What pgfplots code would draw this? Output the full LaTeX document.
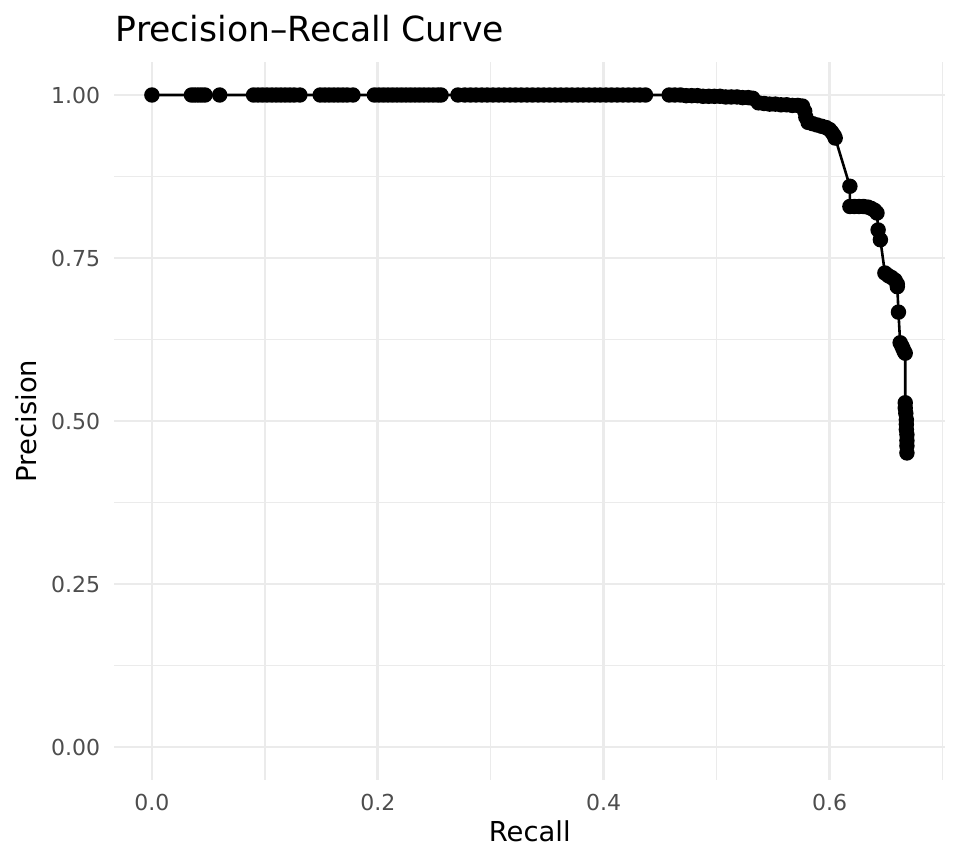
\documentclass[border=0pt]{standalone}
\usepackage{pgfplots}
\pgfplotsset{compat=1.18}
\usepackage{fontspec}
\setmainfont{DejaVu Sans}
\definecolor{grid92}{HTML}{EBEBEB}
\definecolor{tick30}{HTML}{4D4D4D}
\begin{document}
\begin{tikzpicture}
\path[use as bounding box] (-57.1pt,-42.2pt) rectangle (422.9pt,389.8pt);
\begin{axis}[
  at={(0pt,0pt)}, anchor=south west,
  scale only axis, width=415.5pt, height=358.6pt,
  xmin=-0.0334, xmax=0.7024, ymin=-0.05, ymax=1.05,
  xtick={0,0.2,0.4,0.6}, xticklabels={0.0,0.2,0.4,0.6},
  minor xtick={0.1,0.3,0.5,0.7},
  ytick={0,0.25,0.5,0.75,1}, yticklabels={0.00,0.25,0.50,0.75,1.00},
  minor ytick={0.125,0.375,0.625,0.875},
  grid=both,
  major grid style={draw=grid92, line width=1.33pt},
  minor grid style={draw=grid92, line width=0.67pt},
  axis line style={draw=none},
  major tick length=0pt, minor tick length=0pt,
  tick style={draw=none},
  /pgf/number format/assume math mode=true,
  xticklabel style={anchor=base, yshift=-15.2pt, inner sep=0pt, font=\fontsize{11}{13}\selectfont, text=tick30},
  yticklabel style={anchor=east, xshift=-6.85pt, inner sep=0pt, font=\fontsize{11}{13}\selectfont, text=tick30},
  clip=false,
]
\addplot[black, line width=1.3pt, mark=*, mark size=3.2pt, mark options={solid, fill=black, draw=black}] coordinates {
(0,1)
(0.035,1) (0.038,1) (0.041,1) (0.044,1) (0.047,1)
(0.060,1)
(0.090,1) (0.094,1) (0.098,1) (0.102,1) (0.106,1) (0.110,1) (0.114,1) (0.118,1) (0.122,1) (0.126,1) (0.131,1)
(0.149,1) (0.153,1) (0.157,1) (0.161,1) (0.165,1) (0.169,1) (0.173,1) (0.178,1)
(0.197,1) (0.201,1) (0.205,1) (0.209,1) (0.213,1) (0.217,1) (0.221,1) (0.225,1) (0.229,1) (0.233,1) (0.237,1) (0.241,1) (0.245,1) (0.249,1) (0.253,1) (0.256,1)
(0.271,1) (0.277,1) (0.282,1) (0.287,1) (0.292,1) (0.297,1) (0.302,1) (0.307,1) (0.312,1) (0.317,1) (0.322,1) (0.327,1) (0.332,1) (0.337,1) (0.342,1) (0.347,1) (0.352,1) (0.357,1) (0.362,1) (0.367,1) (0.372,1) (0.377,1) (0.382,1) (0.387,1) (0.392,1) (0.397,1) (0.402,1) (0.407,1) (0.412,1) (0.417,1) (0.422,1) (0.427,1) (0.432,1) (0.437,1)
(0.458,1) (0.463,1) (0.468,1) (0.473,0.999) (0.478,0.999) (0.483,0.999) (0.488,0.998) (0.493,0.998) (0.498,0.998) (0.503,0.998) (0.508,0.997) (0.513,0.997) (0.518,0.997) (0.523,0.996) (0.528,0.996) (0.532,0.995)
(0.537,0.988) (0.542,0.987) (0.547,0.986) (0.552,0.986) (0.557,0.985) (0.562,0.985) (0.567,0.984) (0.572,0.984) (0.576,0.983)
(0.578,0.975) (0.579,0.966) (0.581,0.958) (0.585,0.956) (0.589,0.954) (0.593,0.952) (0.597,0.950) (0.600,0.947) (0.602,0.943) (0.604,0.938) (0.605,0.934)
(0.618,0.860)
(0.618,0.829) (0.622,0.829) (0.626,0.829) (0.630,0.829) (0.634,0.828) (0.637,0.826) (0.640,0.823) (0.642,0.819)
(0.643,0.793) (0.645,0.778)
(0.649,0.727) (0.652,0.723) (0.655,0.720) (0.658,0.716) (0.660,0.710) (0.660,0.706)
(0.661,0.667)
(0.6625,0.620) (0.664,0.615) (0.665,0.611) (0.666,0.607) (0.667,0.604)
(0.667,0.528) (0.667,0.520) (0.6675,0.512) (0.668,0.502) (0.668,0.495) (0.668,0.487) (0.6685,0.479) (0.6685,0.470) (0.6685,0.462) (0.6685,0.451)
};
\end{axis}
\node[anchor=base west, inner sep=0pt, font=\fontsize{17.3}{20}\selectfont] at (0.6pt,368.95pt) {Precision–Recall Curve};
\node[anchor=base, inner sep=0pt, font=\fontsize{13.7}{16}\selectfont] at (207.75pt,-31.05pt) {Recall};
\node[anchor=base, rotate=90, inner sep=0pt, font=\fontsize{13.7}{16}\selectfont] at (-38.6pt,179.3pt) {Precision};
\end{tikzpicture}
\end{document}
